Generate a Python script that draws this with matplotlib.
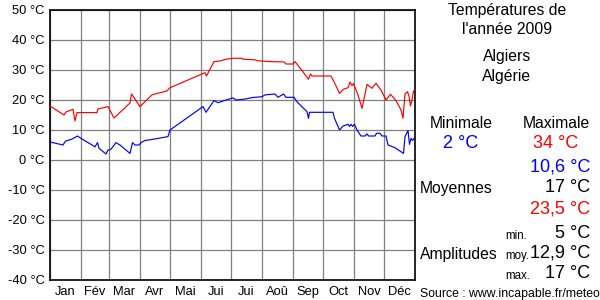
import matplotlib
matplotlib.use("Agg")
import matplotlib.pyplot as plt
import numpy as np

plt.rcParams["font.family"] = ["Liberation Sans", "DejaVu Sans"]

# ── Data (day of year -> °C) ─────────────────────────────────────────────────
max_days = [0, 14, 16, 23, 25, 27, 47, 48, 58, 64, 80, 81.5, 84, 90, 102, 107,
            117, 120, 155, 156.5, 164, 170, 176, 183, 192, 193, 205, 207, 220,
            234, 236, 243, 245, 253, 258.5, 260.5, 262, 281, 284, 289.5, 293.5,
            298, 300, 302, 303.5, 308, 312, 317, 322, 326, 331, 336, 340.5, 346,
            351, 353, 355, 357.5, 359, 360.5, 362, 363.5, 365]
max_temps = [18, 15, 16, 16.9, 13, 15.8, 15.8, 17, 17.8, 14, 19, 22, 20.8, 17.8,
             21.7, 22.2, 23, 24.1, 29.1, 28, 32.8, 33, 33.6, 33.9, 33.9, 33.6,
             33.4, 33.1, 32.8, 32.7, 32, 32, 32.8, 29.4, 26.9, 28.7, 28, 28,
             26.1, 22.2, 23.6, 24.1, 26, 24.8, 25.5, 21.7, 17.2, 25.2, 23.9,
             25.6, 23.3, 20, 21.9, 19.8, 16.7, 13.9, 22, 22.8, 21.3, 18, 20, 23,
             23.3]

min_days = [0, 13, 15.5, 21.5, 27.5, 31, 45, 47.5, 49, 56, 58, 61, 66, 70, 80,
            82.5, 85, 89, 91, 95, 103, 118, 120, 153, 156, 164, 168, 176, 183,
            186, 195, 202, 212, 215, 225, 228, 233.5, 236, 244, 247, 257, 258.5,
            259.5, 283, 284.5, 289.5, 293, 298, 299.5, 301, 302.5, 304.5, 307,
            311, 315, 317, 318.5, 325, 326.5, 330, 332, 336, 338, 345, 353.5,
            355, 358, 359.5, 361, 362.5, 365]
min_temps = [6, 5, 6.3, 6.9, 8, 7.2, 4.4, 5.8, 3.9, 2, 3.3, 3.6, 5.8, 5, 2.2,
             5.8, 5, 5, 5.8, 6.5, 6.9, 7.8, 10, 17.8, 15.9, 19.8, 19.1, 20,
             20.7, 20, 20.3, 20.8, 21.1, 21.7, 22, 20.9, 22, 20.9, 20.9, 19.4,
             16.1, 13.9, 15.9, 15.9, 13.9, 10, 11.3, 11.9, 11.2, 11.9, 11.2,
             11.9, 10, 8, 8, 8.7, 8, 8, 8.9, 8.9, 8, 8, 5, 4.1, 2.2, 7.8, 9.8,
             5.2, 7.2, 6.5, 7.6]

months = ["Jan", "Fév", "Mar", "Avr", "Mai", "Jui", "Jui", "Aoû", "Sep", "Oct",
          "Nov", "Déc"]
month_edges = [0, 31, 59, 90, 120, 151, 181, 212, 243, 273, 304, 334, 365]
y_ticks = [-40, -30, -20, -10, 0, 10, 20, 30, 40, 50]

# ── Figure ────────────────────────────────────────────────────────────────────
W, H = 600, 300
fig = plt.figure(figsize=(W / 100, H / 100), dpi=100)
fig.patch.set_facecolor("white")
ax = fig.add_axes([50 / W, 20 / H, 365 / W, 270 / H])

ax.plot(max_days, max_temps, color="#ff0000", linewidth=0.85, zorder=3)
ax.plot(min_days, min_temps, color="#0000ff", linewidth=0.85, zorder=3)

ax.set_xlim(0, 365)
ax.set_ylim(-40, 50)
ax.set_yticks(y_ticks)
ax.set_yticklabels([f"{t} °C" for t in y_ticks], fontsize=9.3)
ax.set_xticks(month_edges, minor=True)
mids = [(a + b) / 2 for a, b in zip(month_edges[:-1], month_edges[1:])]
ax.set_xticks(mids)
ax.set_xticklabels(months, fontsize=9.3)
ax.tick_params(axis="both", which="both", length=0, pad=4)
ax.grid(True, which="minor", axis="x", color="#808080", linewidth=0.9)
ax.grid(True, which="major", axis="y", color="#808080", linewidth=0.9)
for spine in ax.spines.values():
    spine.set_edgecolor("black")
    spine.set_linewidth(1.2)


# ── Right-hand panel ──────────────────────────────────────────────────────────
def txt(x, y, s, size, color="black", ha="center"):
    fig.text(x / W, 1 - y / H, s, fontsize=size, color=color, ha=ha, va="center")


txt(507, 11, "Températures de", 11.3)
txt(507, 30, "l'année 2009", 11.3)
txt(507, 57, "Algiers", 11.3)
txt(507, 77, "Algérie", 11.3)

txt(461, 124, "Minimale", 11.3)
txt(461, 144, "2 °C", 13, color="#0000ff")
txt(556, 124, "Maximale", 11.3)
txt(556, 144, "34 °C", 13, color="#ff0000")

txt(590, 167, "10,6 °C", 13, color="#0000ff", ha="right")
txt(420, 189, "Moyennes", 11.3, ha="left")
txt(590, 188, "17 °C", 13, ha="right")
txt(590, 209, "23,5 °C", 13, color="#ff0000", ha="right")

txt(505, 236, "min.", 8.3, ha="left")
txt(590, 233, "5 °C", 13, ha="right")
txt(420, 255, "Amplitudes", 11.3, ha="left")
txt(505, 256, "moy.", 8.3, ha="left")
txt(590, 253, "12,9 °C", 13, ha="right")
txt(505, 276, "max.", 8.3, ha="left")
txt(590, 273, "17 °C", 13, ha="right")

txt(420, 294, "Source : www.incapable.fr/meteo", 8.8, ha="left")

fig.savefig("out.png", dpi=100, facecolor="white")
